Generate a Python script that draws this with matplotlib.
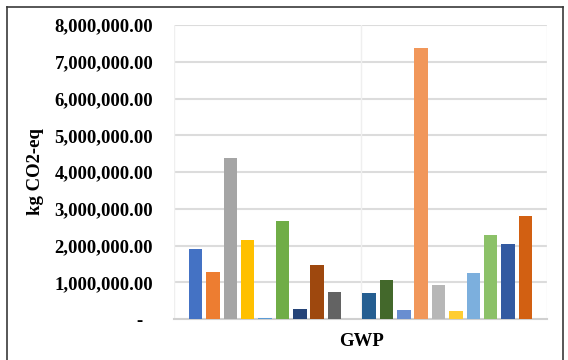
import matplotlib
matplotlib.use("Agg")
import matplotlib.pyplot as plt
from matplotlib.lines import Line2D
from matplotlib.ticker import FuncFormatter

# Emission totals (kg CO2-eq) for each contributor in the GWP category
category = "GWP"
series_values = [
    1910000, 1280000, 4370000, 2150000, 30000,
    2670000, 270000, 1470000, 740000, 10000,
    710000, 1060000, 245000, 7375000, 930000,
    220000, 1250000, 2290000, 2040000, 2810000,
]
series_colors = [
    "#4472C4", "#ED7D31", "#A5A5A5", "#FFC000", "#5B9BD5",
    "#70AD47", "#264478", "#9E480E", "#636363", "#997300",
    "#255E91", "#43682B", "#698ED0", "#F1975A", "#B7B7B7",
    "#FFCD33", "#7CAFDD", "#8CC168", "#335AA1", "#D26012",
]
y_ticks = [0, 1000000, 2000000, 3000000, 4000000, 5000000, 6000000, 7000000, 8000000]

W, H = 568, 360
fig = plt.figure(figsize=(W / 100, H / 100), dpi=100)
ax = fig.add_axes([174 / W, 1 - 319 / H, 373 / W, 294 / H])

font = {"family": "Liberation Serif", "weight": "bold"}

n = len(series_values)
step = 0.0465
bar_w = 0.036
for i, (v, c) in enumerate(zip(series_values, series_colors)):
    ax.bar((i - (n - 1) / 2) * step, v, width=bar_w, color=c, zorder=3)

ax.set_xlim(-0.5, 0.5)
ax.set_ylim(0, 8000000)
ax.set_yticks(y_ticks)
ax.set_xticks([])

def fmt(v, _pos):
    return "-  " if v == 0 else f"{v:,.2f}"

ax.yaxis.set_major_formatter(FuncFormatter(fmt))
ax.tick_params(axis="y", length=0, pad=15)
for lab in ax.get_yticklabels():
    lab.set_fontfamily("Liberation Serif")
    lab.set_fontweight("bold")
    lab.set_fontsize(13.5)

# horizontal gridlines
for t in y_ticks[1:]:
    ax.axhline(t, color="#DCDCDC", lw=1.5, zorder=1)
# vertical gridlines at category boundaries and centre
for xv in (-0.5, 0.0, 0.5):
    ax.axvline(xv, color="#EFEFEF", lw=1.0, zorder=1)

for s in ("top", "right", "left"):
    ax.spines[s].set_visible(False)
ax.spines["bottom"].set_color("#D0D0D0")
ax.spines["bottom"].set_linewidth(1.5)
ax.spines["bottom"].set_zorder(2)

fig.text(35 / W, 1 - 172 / H, "kg CO2-eq", rotation=90, ha="center", va="center",
         fontsize=13.5, **font)
fig.text(361 / W, 1 - 342 / H, category, ha="center", va="center",
         fontsize=13.5, **font)

# chart frame (open at the bottom edge)
x0, x1, y0 = 6.5 / W, 563 / W, 1 - 7 / H
for xs, ys in (([x0, x0], [y0, -0.05]), ([x0, x1], [y0, y0]), ([x1, x1], [y0, -0.05])):
    fig.add_artist(Line2D(xs, ys, transform=fig.transFigure, color="#3A3A3A", lw=1.2))

fig.savefig("out.png", dpi=100)
